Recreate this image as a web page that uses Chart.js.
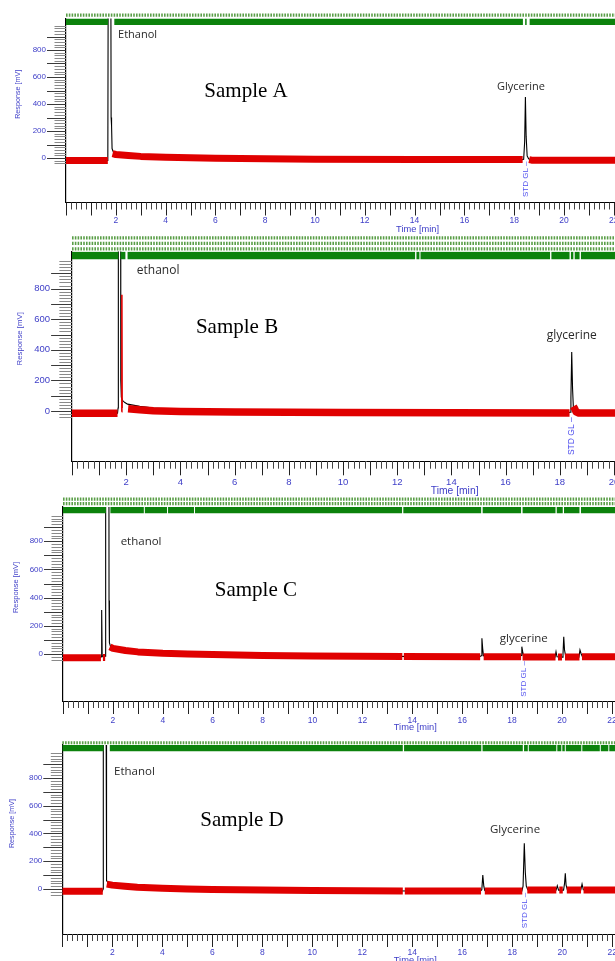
<!DOCTYPE html>
<html><head><meta charset="utf-8">
<script src="https://cdn.jsdelivr.net/npm/chart.js@4.4.1/dist/chart.umd.min.js"></script>
<style>
html,body{margin:0;padding:0;background:#fff;overflow:hidden;width:615px;height:961px}
canvas{position:absolute;left:0}
</style></head><body>
<canvas id="cA"></canvas><canvas id="cB"></canvas><canvas id="cC"></canvas><canvas id="cD"></canvas>
<script>
// ---------- shared axis values ----------
const TIME_TICKS = [2,4,6,8,10,12,14,16,18,20,22];
const RESPONSE_TICKS = [0,200,400,600,800];
const Y_TITLE = 'Response [mV]';
const X_TITLE = 'Time [min]';

// ---------- Sample A ----------
const signalA = [[0,-19],[1.66,-19],[1.68,-12],[1.695,1400],[1.80,1400],[1.812,300],[1.83,240],[1.85,70],[1.9,45],[2.0,30],[2.5,18],[3,12],[4,6],[5,2],[6,-2],[8,-6],[10,-9],[14,-11],[18.3,-12],[18.38,-9],[18.42,120],[18.45,452],[18.48,160],[18.52,15],[18.58,-6],[18.7,-16],[24,-16]];
const baselineA = [[0,-19],[1.68,-19],[1.70,null],[1.87,32],[2.0,26],[2.5,18],[3,12],[4,6],[5,2],[6,-2],[8,-6],[10,-9],[14,-11],[18.34,-12],[18.35,null],[18.6,-12],[18.7,-16],[24,-16]];
const eventGapsA = [[1.69,1.94],[18.35,18.44],[18.5,18.62]];
const annotRowsA = [1059];
const peakLabelsA = [['Ethanol',2.09,911,'left'],['Glycerine',18.27,528,'center']];
const sampleA = ['Sample A',7.23,496];
const stdA = ['STD GL –',18.47,-289];

// ---------- Sample B ----------
const signalB = [[0,-14],[1.68,-14],[1.70,20],[1.71,1400],[1.795,1400],[1.80,200],[1.82,90],[1.86,70],[1.95,55],[2.05,45],[2.5,30],[3,20],[4,10],[6,0],[10,-8],[14,-11],[18.3,-12],[18.38,-8],[18.41,90],[18.44,385],[18.47,150],[18.5,25],[18.55,5],[18.62,-8],[18.7,-13],[23,-13]];
const baselineB = [[0,-14],[1.68,-14],[1.70,null],[2.07,15],[2.5,8],[3,2],[4,-3],[6,-7],[10,-10],[14,-12],[18.36,-13],[18.37,null],[18.5,30],[18.55,15],[18.6,-5],[18.7,-13],[23,-13]];
const spikeB = [[1.83,-5],[1.84,760],[1.85,20]];
const eventGapsB = [[1.71,1.79],[1.97,2.05],[12.66,12.71],[12.82,12.86],[17.64,17.69],[18.36,18.41],[18.5,18.55],[18.73,18.78]];
const annotRowsB = [1131,1095,1059];
const peakLabelsB = [['ethanol',2.39,917,'left'],['glycerine',18.44,490,'center']];
const sampleB = ['Sample B',6.09,549];
const stdB = ['STD GL –',18.45,-288];

// ---------- Sample C ----------
const signalC = [[0,-26],[1.5,-26],[1.53,-20],[1.55,312],[1.57,-10],[1.6,-18],[1.69,-15],[1.71,1400],[1.84,1400],[1.845,380],[1.85,260],[1.87,80],[1.9,55],[2.0,40],[2.5,25],[3,15],[4,5],[5,0],[6,-4],[8,-10],[10,-14],[13,-17],[16.7,-19],[16.76,-12],[16.79,111],[16.82,40],[16.85,-10],[16.9,-19],[18.32,-19],[18.36,-10],[18.39,52],[18.42,20],[18.46,-15],[18.55,-22],[19.72,-22],[19.76,16],[19.8,-20],[20.0,-22],[20.04,0],[20.07,123],[20.1,30],[20.14,-10],[20.2,-22],[20.68,-22],[20.72,28],[20.77,0],[20.82,-20],[24,-20]];
const baselineC = [[0,-26],[1.52,-26],[1.53,null],[1.6,-24],[1.69,-24],[1.70,null],[1.88,50],[2.0,40],[2.5,25],[3,15],[4,5],[5,0],[6,-4],[8,-10],[10,-14],[13.6,-17],[13.61,null],[13.66,-17],[16.72,-19],[16.73,null],[16.86,-19],[18.36,-19],[18.37,null],[18.42,-22],[19.74,-22],[19.75,null],[19.84,-22],[20.0,-22],[20.01,null],[20.12,-22],[20.7,-22],[20.71,null],[20.8,-20],[24,-20]];
const eventGapsC = [[1.72,1.9],[3.24,3.28],[4.17,4.21],[5.25,5.29],[13.59,13.64],[16.76,16.82],[18.36,18.42],[19.74,19.79],[20.03,20.08],[20.7,20.76]];
const annotRowsC = [1099,1067];
const peakLabelsC = [['ethanol',2.31,796,'left'],['glycerine',18.47,106,'center']];
const sampleC = ['Sample C',7.73,454];
const stdC = ['STD GL –',18.47,-303];

// ---------- Sample D ----------
const signalD = [[0,-16],[1.6,-16],[1.63,0],[1.64,1400],[1.75,1400],[1.76,300],[1.78,60],[1.85,40],[2,30],[2.5,20],[3,12],[4,5],[5,0],[6,-3],[8,-8],[10,-11],[14,-14],[16.72,-15],[16.78,-5],[16.82,100],[16.86,20],[16.9,-12],[16.95,-15],[18.38,-15],[18.43,20],[18.48,330],[18.52,120],[18.56,20],[18.62,-5],[18.7,-8],[19.75,-8],[19.8,24],[19.85,-8],[20.05,-8],[20.09,40],[20.12,113],[20.15,30],[20.2,-5],[20.74,-7],[20.79,36],[20.84,-5],[21,-7],[24,-7]];
const baselineD = [[0,-16],[1.62,-16],[1.63,null],[1.78,35],[2,28],[2.5,20],[3,12],[4,5],[5,0],[6,-3],[8,-8],[10,-11],[13.62,-14],[13.63,null],[13.7,-14],[16.75,-15],[16.76,null],[16.9,-15],[18.4,-15],[18.41,null],[18.6,-7],[19.76,-7],[19.77,null],[19.88,-7],[20.02,-7],[20.03,null],[20.18,-7],[20.75,-7],[20.76,null],[20.85,-7],[24,-7]];
const eventGapsD = [[1.65,1.9],[13.62,13.67],[16.76,16.81],[18.42,18.47],[18.62,18.66],[19.76,19.8],[19.96,20.0],[20.1,20.14],[20.76,20.8],[21.5,21.54],[21.84,21.88]];
const annotRowsD = [1054];
const peakLabelsD = [['Ethanol',2.07,845,'left'],['Glycerine',18.11,425,'center']];
const sampleD = ['Sample D',7.19,497];
const stdD = ['STD GL –',18.48,-283];

// ---------- layout (pixels) ----------
const CANVAS_W = 660;
const panels = [
  {id:'cA', top:0,   height:236, x0:66,   ppm:24.9,  zeroY:158, ppmv:0.135,   areaTop:18.5,  areaBottom:202.5, s:1,
   band:1010, bandW:6.5, redW:7,  sig:signalA, base:baselineA, spike:null, gaps:eventGapsA, rows:annotRowsA, peaks:peakLabelsA, sample:sampleA, std:stdA,
   yFs:8, xFs:8.5, xOff:18, xTitleOff:26.5, yTitleOff:48, peakFs:11, stdFs:8, titleFs:7.2},
  {id:'cB', top:230, height:266, x0:72,   ppm:27.1,  zeroY:411, ppmv:0.153,   areaTop:251.5, areaBottom:461, s:1.1,
   band:1016, bandW:7.5, redW:7.5, sig:signalB, base:baselineB, spike:spikeB, gaps:eventGapsB, rows:annotRowsB, peaks:peakLabelsB, sample:sampleB, std:stdB,
   yFs:9.5, xFs:9.5, xOff:21, xTitleOff:30, yTitleOff:52, peakFs:12, stdFs:8.5, titleFs:7.8},
  {id:'cC', top:490, height:245, x0:63,   ppm:24.95, zeroY:654, ppmv:0.141,   areaTop:507,   areaBottom:701, s:1,
   band:1021, bandW:6.5, redW:7,  sig:signalC, base:baselineC, spike:null, gaps:eventGapsC, rows:annotRowsC, peaks:peakLabelsC, sample:sampleC, std:stdC,
   yFs:8, xFs:8.5, xOff:19.7, xTitleOff:26, yTitleOff:47, peakFs:11.5, stdFs:8, titleFs:7.5},
  {id:'cD', top:730, height:231, x0:62.3, ppm:25,    zeroY:889, ppmv:0.13875, areaTop:745,   areaBottom:934, s:1,
   band:1016, bandW:6.5, redW:7,  sig:signalD, base:baselineD, spike:null, gaps:eventGapsD, rows:annotRowsD, peaks:peakLabelsD, sample:sampleD, std:stdD,
   yFs:8, xFs:8.5, xOff:18.7, xTitleOff:26, yTitleOff:50, peakFs:11.5, stdFs:8, titleFs:7.2}
];

const BLUE = '#4040c8';
const toXY = arr => arr.map(p => ({x:p[0], y:p[1]}));

const chromPlugin = {
  id:'chrom',
  afterDraw(chart, args, o) {
    const P = o.panel;
    const {ctx, chartArea:a, scales:{x, y}} = chart;
    ctx.save();
    // y ticks: minor every 20, major every 100
    for (let v = -40; v <= 980; v += 20) {
      const py = Math.round(y.getPixelForValue(v)) + 0.5;
      const major = v % 100 === 0;
      ctx.strokeStyle = major ? '#3a3a3a' : '#8a8a8a';
      ctx.lineWidth = 1;
      const len = (major ? 19 : 11.5) * P.s;
      ctx.beginPath(); ctx.moveTo(a.left - len, py); ctx.lineTo(a.left, py); ctx.stroke();
    }
    // x ticks: minor every 0.2 min, long every minute
    for (let i = 0; i * 0.2 <= x.max; i++) {
      const t = i * 0.2;
      const px = Math.round(x.getPixelForValue(t)) + 0.5;
      const len = (i % 5 === 0 ? 13 : 7) * P.s;
      ctx.strokeStyle = i % 5 === 0 ? '#222' : '#444';
      ctx.beginPath(); ctx.moveTo(px, a.bottom); ctx.lineTo(px, a.bottom + len); ctx.stroke();
    }
    // axis titles
    ctx.fillStyle = BLUE;
    ctx.font = P.titleFs + 'px "Liberation Sans"';
    ctx.textAlign = 'center'; ctx.textBaseline = 'middle';
    ctx.save();
    ctx.translate(a.left - P.yTitleOff, y.getPixelForValue(472));
    ctx.rotate(-Math.PI/2);
    ctx.fillText(Y_TITLE, 0, 0);
    ctx.restore();
    ctx.font = (P.xFs + 0.8) + 'px "Liberation Sans"';
    ctx.fillText(X_TITLE, x.getPixelForValue(14.12), a.bottom + P.xTitleOff);
    // peak names
    ctx.fillStyle = '#2a2a2a';
    ctx.font = P.peakFs + 'px "Open Sans"';
    P.peaks.forEach(([txt, t, mv, al]) => {
      ctx.textAlign = al;
      ctx.fillText(txt, x.getPixelForValue(t), y.getPixelForValue(mv));
    });
    // sample name
    ctx.fillStyle = '#000';
    ctx.font = '21px "Liberation Serif"';
    ctx.textAlign = 'center';
    ctx.fillText(P.sample[0], x.getPixelForValue(P.sample[1]), y.getPixelForValue(P.sample[2]));
    // STD marker
    ctx.fillStyle = '#5050ee';
    ctx.font = P.stdFs + 'px "Liberation Sans"';
    ctx.save();
    ctx.translate(x.getPixelForValue(P.std[1]), y.getPixelForValue(P.std[2]));
    ctx.rotate(-Math.PI/2);
    ctx.textAlign = 'left';
    ctx.fillText(P.std[0], 0, 0);
    ctx.restore();
    ctx.restore();
  }
};

panels.forEach(P => {
  const cv = document.getElementById(P.id);
  cv.width = CANVAS_W; cv.height = P.height;
  cv.style.top = P.top + 'px';
  const yMax = (P.zeroY - P.areaTop) / P.ppmv;
  const yMin = (P.zeroY - P.areaBottom) / P.ppmv;
  const xMax = (CANVAS_W - P.x0) / P.ppm;
  const xAxisH = P.top + P.height - P.areaBottom;

  // event marker band built from its gaps
  const band = [{x:0, y:P.band}];
  P.gaps.forEach(([g0, g1]) => {
    band.push({x:g0, y:P.band}, {x:(g0+g1)/2, y:null}, {x:g1, y:P.band});
  });
  band.push({x:xMax, y:P.band});

  const datasets = [
    {data: band, borderColor:'#0c820c', borderWidth:P.bandW, borderCapStyle:'butt', order:0},
    {data: toXY(P.base), borderColor:'#e00000', borderWidth:P.redW, borderJoinStyle:'round', order:1},
    {data: toXY(P.sig), borderColor:'#000', borderWidth:1.1, order:2}
  ];
  if (P.spike) datasets.push({data: toXY(P.spike), borderColor:'#e00000', borderWidth:1.6, order:1});
  P.rows.forEach(lv => datasets.push({
    data:[{x:0,y:lv},{x:xMax,y:lv}], borderColor:'#5a9e48', borderWidth:3.2, borderDash:[1.6,1.2], clip:false, order:3
  }));
  datasets.forEach(d => { d.pointRadius = 0; d.spanGaps = false; d.tension = 0; d.fill = false; });

  new Chart(cv, {
    type:'line',
    data:{datasets},
    options:{
      responsive:false, animation:false, devicePixelRatio:1,
      layout:{padding:{left:0, right:0, top:P.areaTop - P.top, bottom:0}},
      plugins:{legend:{display:false}, tooltip:{enabled:false}, chrom:{panel:P}},
      scales:{
        x:{type:'linear', min:0, max:xMax,
           afterBuildTicks: s => { s.ticks = TIME_TICKS.map(v => ({value:v})); },
           afterFit: s => { s.height = xAxisH; s.paddingLeft = 0; s.paddingRight = 0; },
           grid:{display:false, drawTicks:false}, border:{display:true, color:'#000', width:1},
           ticks:{autoSkip:false, maxRotation:0, color:BLUE, padding:P.xOff - 0.6*P.xFs,
                  font:{family:'Liberation Sans', size:P.xFs}}},
        y:{type:'linear', min:yMin, max:yMax,
           afterBuildTicks: s => { s.ticks = RESPONSE_TICKS.map(v => ({value:v})); },
           afterFit: s => { s.width = P.x0; s.paddingTop = 0; s.paddingBottom = 0; },
           grid:{display:false, drawTicks:false}, border:{display:true, color:'#000', width:1.2},
           ticks:{color:BLUE, padding:20*P.s, font:{family:'Liberation Sans', size:P.yFs}}}
      }
    },
    plugins:[chromPlugin]
  });
});
</script>
</body></html>
